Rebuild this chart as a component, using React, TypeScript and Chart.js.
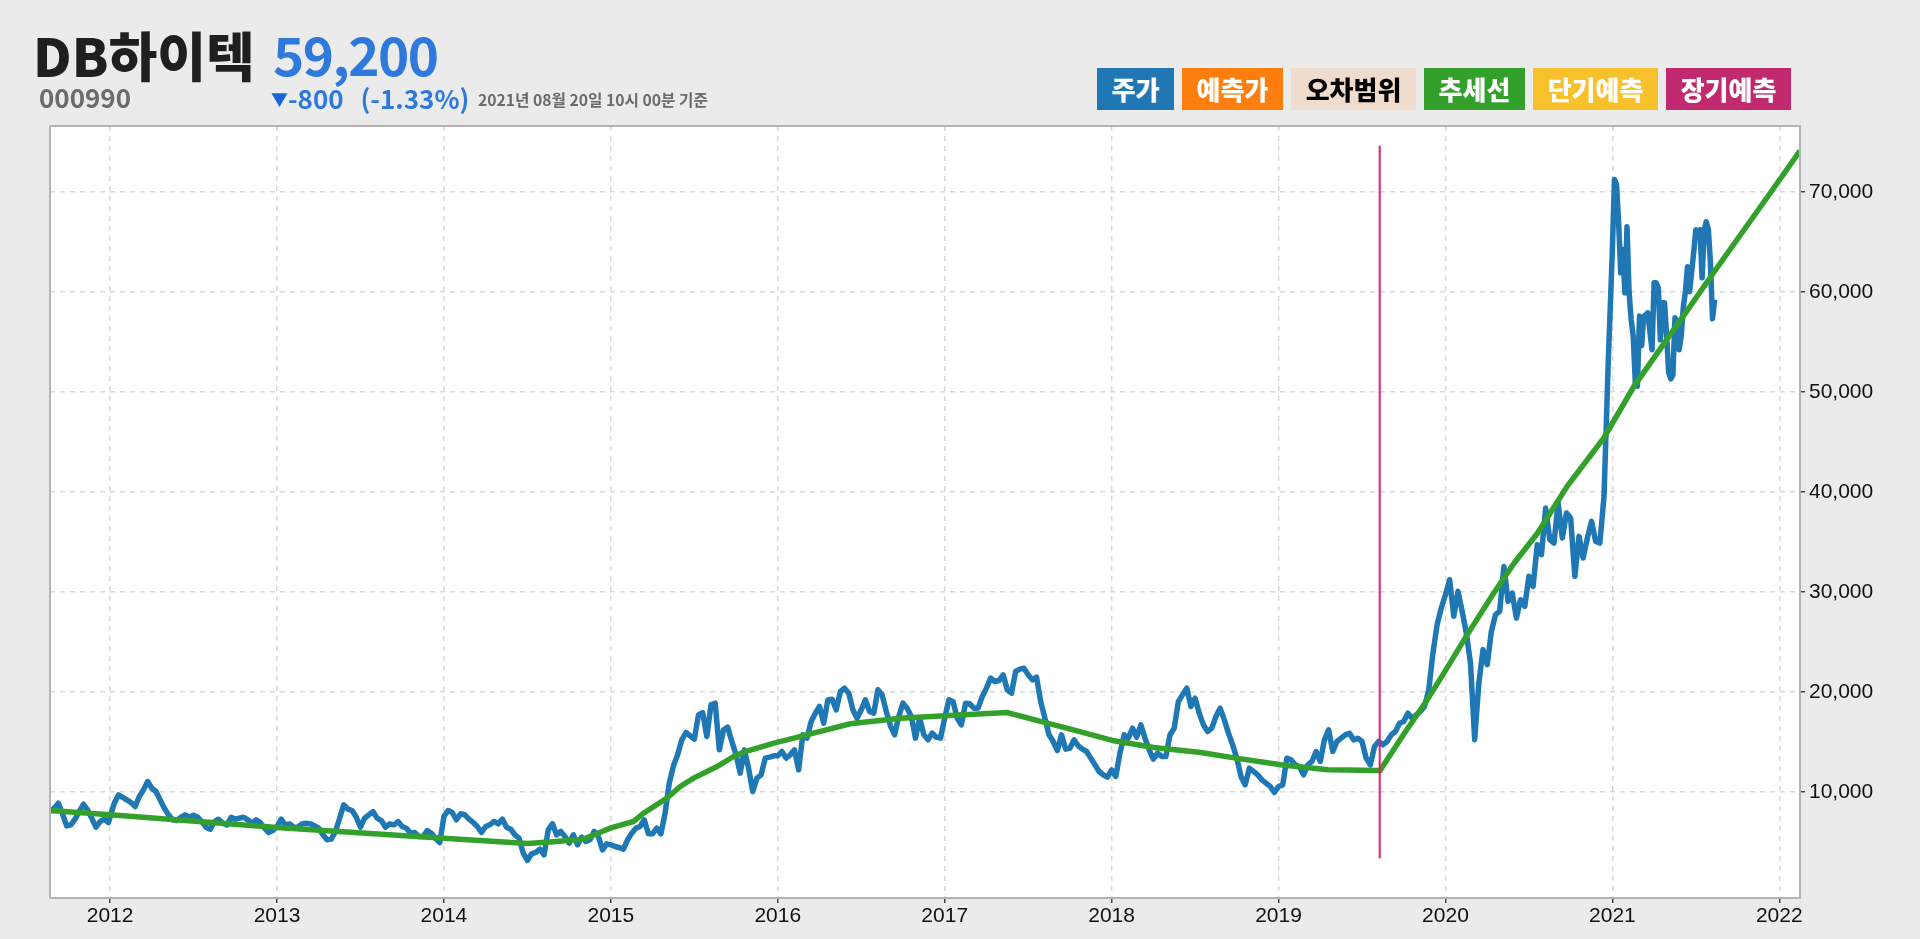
import { useEffect, useRef } from "react";
import { Chart, registerables } from "chart.js";

Chart.register(...registerables);

// closing price, one list per calendar year
const price2011 = [8060, 8390, 8890, 7830, 6630, 6730, 7295, 8060, 8790, 8230, 7395, 6495, 7060, 7295, 6960];
const price2012 = [7500, 8890, 9725, 9490, 9225, 8960, 8560, 9560, 10225, 11060, 10390, 10060, 9225, 8390, 7730, 7230, 7160, 7490, 7730, 7490, 7690, 7490, 7060, 6495, 6295, 7060, 7295, 6895, 6730, 7490, 7295, 7395, 7490, 7230, 6895, 7230, 6960, 6395, 5960, 6160];
const price2013 = [6560, 7295, 6730, 6830, 6495, 6495, 6830, 6895, 6830, 6630, 6395, 5730, 5230, 5300, 6060, 7395, 8730, 8290, 8160, 7490, 6495, 7395, 7730, 8060, 7395, 7160, 6495, 6830, 6730, 7060, 6560, 6395, 5895, 5960, 5565, 5565, 6160, 5895, 5395, 4965];
const price2014 = [7570, 8165, 7965, 7235, 7835, 7735, 7300, 6970, 6570, 5970, 6570, 6735, 7070, 6835, 7300, 6500, 6300, 5735, 5400, 3900, 3170, 3835, 3970, 4300, 3735, 6235, 6835, 5735, 6070, 5570, 4900, 5735, 4735, 5500, 5070, 5235, 6070, 5570, 4235, 4835];
const price2015 = [4735, 4570, 4470, 4300, 5235, 5900, 6400, 6570, 7235, 5835, 5835, 6400, 5835, 7900, 10895, 12630, 13730, 15230, 15960, 15625, 15295, 17720, 17955, 15560, 18720, 18890, 14225, 16225, 16490, 15060, 13730, 11895, 14225, 12395, 10065, 11395, 11730, 13395, 13495, 13630];
const price2016 = [13630, 14060, 13395, 13730, 14225, 12230, 15730, 15395, 17060, 17890, 18560, 16890, 19220, 19290, 18225, 20055, 20390, 19890, 18225, 17390, 18225, 19225, 18060, 17890, 20225, 19725, 18060, 16625, 15730, 17560, 18890, 18390, 17560, 15395, 17390, 15730, 15230, 15895, 15495, 15395];
const price2017 = [17390, 19225, 19060, 17390, 16725, 18890, 18825, 18390, 18390, 19560, 20390, 21390, 21055, 21155, 21720, 20225, 19890, 22055, 22290, 22390, 21720, 21220, 21490, 19060, 17390, 15730, 15060, 14160, 15730, 14295, 14395, 15230, 14630, 14295, 14060, 13395, 12730, 12060, 11730, 11500];
const price2018 = [12230, 11565, 13900, 15730, 15395, 16390, 15495, 16730, 15395, 14230, 13300, 13900, 13565, 13565, 15730, 16390, 19060, 19720, 20390, 18560, 19390, 17890, 16725, 16060, 16390, 17560, 18390, 17225, 15890, 14725, 13395, 11565, 10730, 12395, 12065, 11730, 11230, 10900, 10565, 9965];
const price2019 = [10565, 10730, 13395, 13230, 12730, 12565, 11730, 12730, 13065, 14060, 13065, 15225, 16230, 14060, 15060, 15390, 15725, 15890, 15225, 15390, 15060, 13395, 12730, 14560, 15060, 14725, 15060, 15725, 16060, 16890, 17060, 17890, 17390, 17725, 18060, 18575, 20240, 23900, 26735, 28400];
const price2020 = [29730, 31230, 27570, 30065, 28070, 25900, 22900, 15245, 20900, 24240, 22740, 26070, 27735, 28070, 32560, 29065, 29900, 27400, 29230, 28565, 31565, 30565, 34725, 33725, 38390, 35225, 34890, 38890, 35390, 37890, 37390, 31565, 35560, 33395, 35390, 37060, 35060, 34890, 39590, 52910];
const price2021 = [64230, 71220, 70720, 66890, 61900, 64230, 59900, 66500, 60000, 57235, 55570, 50900, 50570, 57570, 54600, 57500, 57700, 57900, 56000, 54200, 60900, 60900, 60400, 55200, 58900, 58900, 55600, 51900, 51300, 51700, 57400, 57000, 54200, 55600, 58500, 60000, 62500, 60000, 62000, 64000, 66200, 66000, 66200, 61400, 66200, 67000, 66200, 62900, 57300, 59200];

const trendYears = [2011.64, 2012, 2013, 2014, 2014.5, 2014.676, 2014.836, 2014.916, 2014.996, 2015.136, 2015.196, 2015.336, 2015.416, 2015.496, 2015.636, 2015.736, 2015.796, 2015.976, 2016.096, 2016.434, 2016.734, 2017, 2017.374, 2017.614, 2017.754, 2018.014, 2018.254, 2018.534, 2018.744, 2019.014, 2019.294, 2019.608, 2019.754, 2019.884, 2019.984, 2020.124, 2020.283, 2020.412, 2020.552, 2020.73, 2020.95, 2021.13, 2021.43, 2021.61, 2021.93, 2022.124];
const trendValues = [8160, 7730, 6460, 5400, 4870, 5070, 5300, 5835, 6400, 7070, 7900, 9400, 10565, 11400, 12560, 13560, 13990, 14900, 15390, 16830, 17390, 17625, 17960, 16890, 16295, 15130, 14460, 13960, 13395, 12730, 12230, 12165, 15890, 19060, 21720, 25570, 29730, 32900, 35890, 40590, 45420, 50580, 57700, 62000, 69500, 74100];

const splitYear = 2019.606;
const splitRange = [3400, 74600];

const xTicks = [2012, 2013, 2014, 2015, 2016, 2017, 2018, 2019, 2020, 2021, 2022];
const yTicks = [10000, 20000, 30000, 40000, 50000, 60000, 70000];

const legendItems = [
  { label: "주가", color: "#1f77b4", text: "#fff", left: 1097, width: 77 },
  { label: "예측가", color: "#ff7f0e", text: "#fff", left: 1182, width: 101 },
  { label: "오차범위", color: "#efdccc", text: "#000", left: 1291, width: 125 },
  { label: "추세선", color: "#33a02c", text: "#fff", left: 1424, width: 101 },
  { label: "단기예측", color: "#f7c12c", text: "#fff", left: 1533, width: 125 },
  { label: "장기예측", color: "#c12a6e", text: "#fff", left: 1666, width: 125 },
];

const toPoints = (values: number[], start: number, step: number) =>
  values.map((y, i) => ({ x: start + i * step, y }));

const pricePoints = [
  ...toPoints(price2011, 2011.64, 0.025),
  ...toPoints(price2012, 2012, 0.025),
  ...toPoints(price2013, 2013, 0.025),
  ...toPoints(price2014, 2014, 0.025),
  ...toPoints(price2015, 2015, 0.025),
  ...toPoints(price2016, 2016, 0.025),
  ...toPoints(price2017, 2017, 0.025),
  ...toPoints(price2018, 2018, 0.025),
  ...toPoints(price2019, 2019, 0.025),
  ...toPoints(price2020, 2020, 0.025),
  ...toPoints(price2021, 2021, 0.0125),
];

const krFont = '"Noto Sans CJK KR", sans-serif';

function Label(props: { left: number; top: number; size: number; color: string; weight?: number; wordSpacing?: number; letterSpacing?: number; children: any }) {
  return (
    <div
      style={{
        position: "absolute",
        left: props.left,
        top: props.top,
        fontFamily: krFont,
        fontSize: props.size,
        fontWeight: props.weight ?? 700,
        wordSpacing: props.wordSpacing ?? 0,
        letterSpacing: props.letterSpacing ?? 0,
        color: props.color,
        lineHeight: 1,
        whiteSpace: "pre",
      }}
    >
      {props.children}
    </div>
  );
}

export default function App() {
  const chartRef = useRef<HTMLCanvasElement>(null);

  useEffect(() => {
    document.body.style.margin = "0";
    document.body.style.background = "#ebebeb";
    if (!chartRef.current) return;
    const ctx = chartRef.current.getContext("2d");
    if (!ctx) return;

    const chart = new Chart(ctx, {
      type: "line",
      data: {
        datasets: [
          {
            label: "기준일",
            data: splitRange.map((y) => ({ x: splitYear, y })),
            borderColor: "#ec1a6c",
            borderWidth: 2,
            pointRadius: 0,
          },
          {
            label: "추세선",
            data: trendYears.map((x, i) => ({ x, y: trendValues[i] })),
            borderColor: "#33a02c",
            borderWidth: 5.5,
            pointRadius: 0,
            tension: 0,
          },
          {
            label: "주가",
            data: pricePoints,
            borderColor: "#1f77b4",
            borderWidth: 5.5,
            borderJoinStyle: "round",
            pointRadius: 0,
            tension: 0,
          },
        ],
      },
      options: {
        responsive: false,
        animation: false,
        parsing: false,
        layout: { padding: { left: 50, top: 126, right: 0, bottom: 0 } },
        plugins: { legend: { display: false }, tooltip: { enabled: false } },
        scales: {
          x: {
            type: "linear",
            min: 2011.64,
            max: 2022.124,
            afterBuildTicks: (s: any) => {
              s.ticks = xTicks.map((value) => ({ value }));
            },
            afterFit: (s: any) => {
              s.height = 41;
            },
            grid: {
              color: "#d9d9d9",
              lineWidth: 1.5,
              tickColor: "#444",
              tickLength: 5,
              tickBorderDash: [],
            } as any,
            border: { display: false, dash: [5, 5] },
            ticks: {
              color: "#111",
              padding: 1,
              maxRotation: 0,
              autoSkip: false,
              font: { family: "Liberation Sans", size: 21 },
              callback: (v) => String(v),
            },
          },
          y: {
            type: "linear",
            position: "right",
            min: -580,
            max: 76570,
            afterBuildTicks: (s: any) => {
              s.ticks = yTicks.map((value) => ({ value }));
            },
            afterFit: (s: any) => {
              s.width = 120;
            },
            grid: {
              color: "#d9d9d9",
              lineWidth: 1.5,
              tickColor: "#444",
              tickLength: 5,
              tickBorderDash: [],
            } as any,
            border: { display: false, dash: [5, 5] },
            ticks: {
              color: "#111",
              padding: 4,
              autoSkip: false,
              font: { family: "Liberation Sans", size: 21 },
              callback: (v) => Number(v).toLocaleString("en-US"),
            },
          },
        },
      },
      plugins: [
        {
          id: "plotFrame",
          beforeDraw: (c) => {
            const a = c.chartArea;
            c.ctx.save();
            c.ctx.fillStyle = "#fff";
            c.ctx.fillRect(a.left, a.top, a.width, a.height);
            c.ctx.restore();
          },
          afterDraw: (c) => {
            const a = c.chartArea;
            c.ctx.save();
            c.ctx.strokeStyle = "#b3b3b3";
            c.ctx.lineWidth = 2;
            c.ctx.strokeRect(a.left, a.top, a.width, a.height);
            c.ctx.restore();
          },
        },
      ],
    });

    return () => chart.destroy();
  }, []);

  return (
    <div style={{ position: "relative", width: 1920, height: 939, overflow: "hidden" }}>
      <canvas ref={chartRef} width={1920} height={939} style={{ position: "absolute", left: 0, top: 0 }}></canvas>
      <Label left={33} top={28} size={53} color="#1f1f1f" weight={900}>DB하이텍</Label>
      <Label left={273} top={27} size={53} color="#2f78dc" weight={700} letterSpacing={-1.5}>59,200</Label>
      <Label left={39} top={84} size={26} color="#6b6b6b">000990</Label>
      <Label left={271} top={85} size={26} color="#2f78dc" weight={700} wordSpacing={11}>
        <span style={{ fontSize: 17, color: "#1a66d8", verticalAlign: 3 }}>▼</span>
        {"-800 (-1.33%)"}
      </Label>
      <Label left={478} top={92} size={15.7} color="#6b6b6b">2021년 08월 20일 10시 00분 기준</Label>
      {legendItems.map((item) => (
        <div
          key={item.label}
          style={{
            position: "absolute",
            left: item.left,
            top: 68,
            width: item.width,
            height: 42,
            lineHeight: "42px",
            background: item.color,
            color: item.text,
            textAlign: "center",
            fontFamily: krFont,
            fontWeight: 900,
            fontSize: 26,
          }}
        >
          {item.label}
        </div>
      ))}
    </div>
  );
}
